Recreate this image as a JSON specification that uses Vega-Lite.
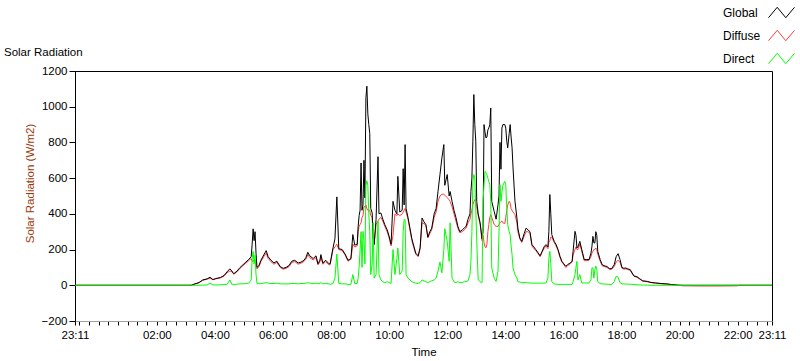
{
 "$schema": "https://vega.github.io/schema/vega-lite/v6.json",
 "width": 697,
 "height": 250,
 "autosize": {"type": "none"},
 "padding": {"left": 75, "top": 71, "right": 28, "bottom": 40},
 "background": "white",
 "config": {
  "font": "Liberation Sans",
  "view": {"stroke": "#000000", "strokeWidth": 1},
  "axis": {"labelFont": "Liberation Sans", "labelFontSize": 11.5, "labelColor": "black", "tickColor": "black", "domainColor": "black", "grid": false, "titleFont": "Liberation Sans", "titleFontSize": 11.5, "titleFontWeight": "normal", "titleColor": "black"}
 },
 "title": {"text": "Solar Radiation", "anchor": "start", "frame": "group", "dx": -71, "dy": 73, "offset": 14, "font": "Liberation Sans", "fontSize": 11.5, "fontWeight": "normal", "color": "black"},
 "data": {"values": [
  {"t":"2024-01-01T23:11","Global":0,"Diffuse":0,"Direct":0},
  {"t":"2024-01-02T03:11","Global":0,"Diffuse":0,"Direct":0},
  {"t":"2024-01-02T03:19","Global":8,"Diffuse":8,"Direct":0},
  {"t":"2024-01-02T03:27","Global":15,"Diffuse":14,"Direct":0},
  {"t":"2024-01-02T03:35","Global":30,"Diffuse":28,"Direct":1},
  {"t":"2024-01-02T03:44","Global":36,"Diffuse":34,"Direct":2},
  {"t":"2024-01-02T03:50","Global":45,"Diffuse":40,"Direct":12},
  {"t":"2024-01-02T03:56","Global":32,"Diffuse":31,"Direct":2},
  {"t":"2024-01-02T04:02","Global":38,"Diffuse":36,"Direct":2},
  {"t":"2024-01-02T04:11","Global":43,"Diffuse":41,"Direct":3},
  {"t":"2024-01-02T04:19","Global":55,"Diffuse":52,"Direct":4},
  {"t":"2024-01-02T04:25","Global":75,"Diffuse":70,"Direct":5},
  {"t":"2024-01-02T04:31","Global":92,"Diffuse":80,"Direct":30},
  {"t":"2024-01-02T04:35","Global":80,"Diffuse":76,"Direct":5},
  {"t":"2024-01-02T04:39","Global":65,"Diffuse":62,"Direct":5},
  {"t":"2024-01-02T04:46","Global":80,"Diffuse":76,"Direct":6},
  {"t":"2024-01-02T04:52","Global":100,"Diffuse":95,"Direct":8},
  {"t":"2024-01-02T04:58","Global":115,"Diffuse":110,"Direct":8},
  {"t":"2024-01-02T05:04","Global":130,"Diffuse":124,"Direct":10},
  {"t":"2024-01-02T05:10","Global":145,"Diffuse":138,"Direct":12},
  {"t":"2024-01-02T05:15","Global":160,"Diffuse":150,"Direct":30},
  {"t":"2024-01-02T05:17","Global":230,"Diffuse":135,"Direct":150},
  {"t":"2024-01-02T05:19","Global":316,"Diffuse":135,"Direct":190},
  {"t":"2024-01-02T05:21","Global":250,"Diffuse":140,"Direct":120},
  {"t":"2024-01-02T05:23","Global":300,"Diffuse":140,"Direct":170},
  {"t":"2024-01-02T05:25","Global":180,"Diffuse":120,"Direct":60},
  {"t":"2024-01-02T05:27","Global":100,"Diffuse":92,"Direct":10},
  {"t":"2024-01-02T05:31","Global":110,"Diffuse":104,"Direct":8},
  {"t":"2024-01-02T05:35","Global":140,"Diffuse":132,"Direct":10},
  {"t":"2024-01-02T05:41","Global":170,"Diffuse":160,"Direct":12},
  {"t":"2024-01-02T05:46","Global":194,"Diffuse":180,"Direct":15},
  {"t":"2024-01-02T05:50","Global":160,"Diffuse":150,"Direct":12},
  {"t":"2024-01-02T05:56","Global":140,"Diffuse":132,"Direct":10},
  {"t":"2024-01-02T06:02","Global":125,"Diffuse":118,"Direct":10},
  {"t":"2024-01-02T06:08","Global":135,"Diffuse":128,"Direct":12},
  {"t":"2024-01-02T06:15","Global":105,"Diffuse":100,"Direct":8},
  {"t":"2024-01-02T06:21","Global":95,"Diffuse":90,"Direct":8},
  {"t":"2024-01-02T06:27","Global":100,"Diffuse":95,"Direct":8},
  {"t":"2024-01-02T06:33","Global":110,"Diffuse":104,"Direct":8},
  {"t":"2024-01-02T06:39","Global":135,"Diffuse":128,"Direct":10},
  {"t":"2024-01-02T06:45","Global":140,"Diffuse":133,"Direct":10},
  {"t":"2024-01-02T06:52","Global":125,"Diffuse":118,"Direct":8},
  {"t":"2024-01-02T06:58","Global":130,"Diffuse":124,"Direct":10},
  {"t":"2024-01-02T07:04","Global":140,"Diffuse":133,"Direct":10},
  {"t":"2024-01-02T07:08","Global":155,"Diffuse":146,"Direct":12},
  {"t":"2024-01-02T07:12","Global":185,"Diffuse":172,"Direct":15},
  {"t":"2024-01-02T07:16","Global":165,"Diffuse":155,"Direct":12},
  {"t":"2024-01-02T07:23","Global":150,"Diffuse":142,"Direct":10},
  {"t":"2024-01-02T07:29","Global":165,"Diffuse":155,"Direct":12},
  {"t":"2024-01-02T07:33","Global":120,"Diffuse":114,"Direct":8},
  {"t":"2024-01-02T07:37","Global":140,"Diffuse":132,"Direct":10},
  {"t":"2024-01-02T07:39","Global":172,"Diffuse":160,"Direct":15},
  {"t":"2024-01-02T07:43","Global":125,"Diffuse":118,"Direct":8},
  {"t":"2024-01-02T07:49","Global":140,"Diffuse":132,"Direct":10},
  {"t":"2024-01-02T07:56","Global":120,"Diffuse":114,"Direct":8},
  {"t":"2024-01-02T07:58","Global":120,"Diffuse":115,"Direct":5},
  {"t":"2024-01-02T08:04","Global":209,"Diffuse":200,"Direct":10},
  {"t":"2024-01-02T08:08","Global":260,"Diffuse":215,"Direct":40},
  {"t":"2024-01-02T08:12","Global":495,"Diffuse":230,"Direct":175},
  {"t":"2024-01-02T08:16","Global":205,"Diffuse":200,"Direct":10},
  {"t":"2024-01-02T08:23","Global":200,"Diffuse":195,"Direct":8},
  {"t":"2024-01-02T08:29","Global":175,"Diffuse":170,"Direct":8},
  {"t":"2024-01-02T08:35","Global":140,"Diffuse":135,"Direct":5},
  {"t":"2024-01-02T08:41","Global":150,"Diffuse":145,"Direct":5},
  {"t":"2024-01-02T08:45","Global":284,"Diffuse":230,"Direct":60},
  {"t":"2024-01-02T08:49","Global":225,"Diffuse":215,"Direct":10},
  {"t":"2024-01-02T08:54","Global":230,"Diffuse":220,"Direct":10},
  {"t":"2024-01-02T08:56","Global":330,"Diffuse":300,"Direct":40},
  {"t":"2024-01-02T08:58","Global":390,"Diffuse":330,"Direct":100},
  {"t":"2024-01-02T09:00","Global":420,"Diffuse":340,"Direct":200},
  {"t":"2024-01-02T09:02","Global":685,"Diffuse":350,"Direct":300},
  {"t":"2024-01-02T09:04","Global":420,"Diffuse":380,"Direct":100},
  {"t":"2024-01-02T09:06","Global":450,"Diffuse":390,"Direct":302},
  {"t":"2024-01-02T09:08","Global":700,"Diffuse":440,"Direct":250},
  {"t":"2024-01-02T09:10","Global":490,"Diffuse":440,"Direct":120},
  {"t":"2024-01-02T09:12","Global":1050,"Diffuse":450,"Direct":560},
  {"t":"2024-01-02T09:14","Global":1115,"Diffuse":430,"Direct":585},
  {"t":"2024-01-02T09:16","Global":960,"Diffuse":420,"Direct":560},
  {"t":"2024-01-02T09:18","Global":900,"Diffuse":420,"Direct":400},
  {"t":"2024-01-02T09:20","Global":850,"Diffuse":420,"Direct":300},
  {"t":"2024-01-02T09:22","Global":430,"Diffuse":390,"Direct":60},
  {"t":"2024-01-02T09:25","Global":405,"Diffuse":380,"Direct":120},
  {"t":"2024-01-02T09:27","Global":260,"Diffuse":250,"Direct":350},
  {"t":"2024-01-02T09:29","Global":230,"Diffuse":225,"Direct":40},
  {"t":"2024-01-02T09:33","Global":370,"Diffuse":340,"Direct":60},
  {"t":"2024-01-02T09:37","Global":720,"Diffuse":360,"Direct":358},
  {"t":"2024-01-02T09:39","Global":400,"Diffuse":370,"Direct":60},
  {"t":"2024-01-02T09:43","Global":405,"Diffuse":380,"Direct":30},
  {"t":"2024-01-02T09:47","Global":370,"Diffuse":360,"Direct":20},
  {"t":"2024-01-02T09:51","Global":340,"Diffuse":330,"Direct":15},
  {"t":"2024-01-02T09:56","Global":310,"Diffuse":300,"Direct":20},
  {"t":"2024-01-02T10:00","Global":275,"Diffuse":265,"Direct":15},
  {"t":"2024-01-02T10:04","Global":230,"Diffuse":220,"Direct":10},
  {"t":"2024-01-02T10:08","Global":470,"Diffuse":280,"Direct":200},
  {"t":"2024-01-02T10:12","Global":420,"Diffuse":400,"Direct":60},
  {"t":"2024-01-02T10:16","Global":400,"Diffuse":390,"Direct":150},
  {"t":"2024-01-02T10:18","Global":610,"Diffuse":400,"Direct":209},
  {"t":"2024-01-02T10:22","Global":410,"Diffuse":390,"Direct":60},
  {"t":"2024-01-02T10:27","Global":420,"Diffuse":400,"Direct":80},
  {"t":"2024-01-02T10:29","Global":653,"Diffuse":410,"Direct":300},
  {"t":"2024-01-02T10:31","Global":450,"Diffuse":420,"Direct":368},
  {"t":"2024-01-02T10:33","Global":788,"Diffuse":430,"Direct":368},
  {"t":"2024-01-02T10:35","Global":430,"Diffuse":410,"Direct":60},
  {"t":"2024-01-02T10:39","Global":380,"Diffuse":370,"Direct":40},
  {"t":"2024-01-02T10:43","Global":320,"Diffuse":310,"Direct":30},
  {"t":"2024-01-02T10:47","Global":260,"Diffuse":250,"Direct":20},
  {"t":"2024-01-02T10:51","Global":220,"Diffuse":210,"Direct":15},
  {"t":"2024-01-02T10:55","Global":180,"Diffuse":175,"Direct":12},
  {"t":"2024-01-02T11:00","Global":165,"Diffuse":160,"Direct":10},
  {"t":"2024-01-02T11:04","Global":210,"Diffuse":205,"Direct":15},
  {"t":"2024-01-02T11:08","Global":377,"Diffuse":350,"Direct":30},
  {"t":"2024-01-02T11:12","Global":355,"Diffuse":345,"Direct":25},
  {"t":"2024-01-02T11:16","Global":340,"Diffuse":335,"Direct":20},
  {"t":"2024-01-02T11:20","Global":270,"Diffuse":265,"Direct":15},
  {"t":"2024-01-02T11:24","Global":300,"Diffuse":290,"Direct":20},
  {"t":"2024-01-02T11:28","Global":320,"Diffuse":310,"Direct":25},
  {"t":"2024-01-02T11:33","Global":400,"Diffuse":380,"Direct":30},
  {"t":"2024-01-02T11:37","Global":430,"Diffuse":410,"Direct":40},
  {"t":"2024-01-02T11:41","Global":526,"Diffuse":470,"Direct":80},
  {"t":"2024-01-02T11:45","Global":620,"Diffuse":500,"Direct":130},
  {"t":"2024-01-02T11:49","Global":713,"Diffuse":510,"Direct":70},
  {"t":"2024-01-02T11:53","Global":788,"Diffuse":510,"Direct":200},
  {"t":"2024-01-02T11:55","Global":560,"Diffuse":505,"Direct":317},
  {"t":"2024-01-02T12:00","Global":620,"Diffuse":490,"Direct":246},
  {"t":"2024-01-02T12:04","Global":500,"Diffuse":480,"Direct":134},
  {"t":"2024-01-02T12:06","Global":525,"Diffuse":470,"Direct":350},
  {"t":"2024-01-02T12:10","Global":470,"Diffuse":440,"Direct":40},
  {"t":"2024-01-02T12:14","Global":420,"Diffuse":400,"Direct":20},
  {"t":"2024-01-02T12:18","Global":380,"Diffuse":360,"Direct":15},
  {"t":"2024-01-02T12:22","Global":330,"Diffuse":320,"Direct":20},
  {"t":"2024-01-02T12:26","Global":300,"Diffuse":295,"Direct":15},
  {"t":"2024-01-02T12:31","Global":310,"Diffuse":300,"Direct":15},
  {"t":"2024-01-02T12:35","Global":320,"Diffuse":310,"Direct":20},
  {"t":"2024-01-02T12:39","Global":330,"Diffuse":320,"Direct":20},
  {"t":"2024-01-02T12:43","Global":370,"Diffuse":350,"Direct":25},
  {"t":"2024-01-02T12:47","Global":400,"Diffuse":370,"Direct":60},
  {"t":"2024-01-02T12:49","Global":526,"Diffuse":400,"Direct":134},
  {"t":"2024-01-02T12:51","Global":600,"Diffuse":420,"Direct":300},
  {"t":"2024-01-02T12:53","Global":807,"Diffuse":450,"Direct":580},
  {"t":"2024-01-02T12:55","Global":1068,"Diffuse":470,"Direct":620},
  {"t":"2024-01-02T12:57","Global":900,"Diffuse":480,"Direct":600},
  {"t":"2024-01-02T12:59","Global":807,"Diffuse":460,"Direct":433},
  {"t":"2024-01-02T13:01","Global":470,"Diffuse":440,"Direct":246},
  {"t":"2024-01-02T13:04","Global":400,"Diffuse":390,"Direct":30},
  {"t":"2024-01-02T13:08","Global":350,"Diffuse":340,"Direct":20},
  {"t":"2024-01-02T13:12","Global":260,"Diffuse":250,"Direct":15},
  {"t":"2024-01-02T13:14","Global":300,"Diffuse":280,"Direct":470},
  {"t":"2024-01-02T13:16","Global":900,"Diffuse":240,"Direct":560},
  {"t":"2024-01-02T13:18","Global":860,"Diffuse":215,"Direct":638},
  {"t":"2024-01-02T13:20","Global":825,"Diffuse":210,"Direct":630},
  {"t":"2024-01-02T13:22","Global":830,"Diffuse":230,"Direct":620},
  {"t":"2024-01-02T13:24","Global":870,"Diffuse":300,"Direct":600},
  {"t":"2024-01-02T13:26","Global":881,"Diffuse":340,"Direct":580},
  {"t":"2024-01-02T13:28","Global":900,"Diffuse":380,"Direct":564},
  {"t":"2024-01-02T13:30","Global":993,"Diffuse":396,"Direct":470},
  {"t":"2024-01-02T13:32","Global":470,"Diffuse":380,"Direct":97},
  {"t":"2024-01-02T13:37","Global":414,"Diffuse":340,"Direct":40},
  {"t":"2024-01-02T13:41","Global":370,"Diffuse":330,"Direct":22},
  {"t":"2024-01-02T13:45","Global":452,"Diffuse":330,"Direct":80},
  {"t":"2024-01-02T13:47","Global":500,"Diffuse":340,"Direct":300},
  {"t":"2024-01-02T13:49","Global":800,"Diffuse":350,"Direct":564},
  {"t":"2024-01-02T13:51","Global":650,"Diffuse":355,"Direct":470},
  {"t":"2024-01-02T13:53","Global":880,"Diffuse":360,"Direct":520},
  {"t":"2024-01-02T13:55","Global":900,"Diffuse":350,"Direct":560},
  {"t":"2024-01-02T13:59","Global":900,"Diffuse":345,"Direct":582},
  {"t":"2024-01-02T14:01","Global":880,"Diffuse":380,"Direct":560},
  {"t":"2024-01-02T14:03","Global":806,"Diffuse":420,"Direct":433},
  {"t":"2024-01-02T14:05","Global":770,"Diffuse":450,"Direct":340},
  {"t":"2024-01-02T14:08","Global":850,"Diffuse":470,"Direct":300},
  {"t":"2024-01-02T14:10","Global":900,"Diffuse":460,"Direct":284},
  {"t":"2024-01-02T14:12","Global":830,"Diffuse":430,"Direct":220},
  {"t":"2024-01-02T14:14","Global":770,"Diffuse":420,"Direct":172},
  {"t":"2024-01-02T14:16","Global":657,"Diffuse":410,"Direct":97},
  {"t":"2024-01-02T14:20","Global":470,"Diffuse":396,"Direct":60},
  {"t":"2024-01-02T14:24","Global":377,"Diffuse":350,"Direct":41},
  {"t":"2024-01-02T14:26","Global":320,"Diffuse":300,"Direct":20},
  {"t":"2024-01-02T14:30","Global":265,"Diffuse":260,"Direct":18},
  {"t":"2024-01-02T14:34","Global":246,"Diffuse":240,"Direct":15},
  {"t":"2024-01-02T14:39","Global":290,"Diffuse":275,"Direct":15},
  {"t":"2024-01-02T14:43","Global":320,"Diffuse":300,"Direct":15},
  {"t":"2024-01-02T14:47","Global":310,"Diffuse":300,"Direct":13},
  {"t":"2024-01-02T14:51","Global":300,"Diffuse":290,"Direct":13},
  {"t":"2024-01-02T14:55","Global":228,"Diffuse":220,"Direct":12},
  {"t":"2024-01-02T14:59","Global":215,"Diffuse":205,"Direct":12},
  {"t":"2024-01-02T15:03","Global":200,"Diffuse":195,"Direct":12},
  {"t":"2024-01-02T15:07","Global":185,"Diffuse":180,"Direct":12},
  {"t":"2024-01-02T15:12","Global":165,"Diffuse":160,"Direct":12},
  {"t":"2024-01-02T15:16","Global":190,"Diffuse":185,"Direct":12},
  {"t":"2024-01-02T15:20","Global":215,"Diffuse":205,"Direct":12},
  {"t":"2024-01-02T15:24","Global":228,"Diffuse":220,"Direct":13},
  {"t":"2024-01-02T15:28","Global":215,"Diffuse":205,"Direct":40},
  {"t":"2024-01-02T15:30","Global":300,"Diffuse":240,"Direct":150},
  {"t":"2024-01-02T15:32","Global":508,"Diffuse":250,"Direct":190},
  {"t":"2024-01-02T15:34","Global":400,"Diffuse":270,"Direct":120},
  {"t":"2024-01-02T15:36","Global":284,"Diffuse":270,"Direct":20},
  {"t":"2024-01-02T15:41","Global":246,"Diffuse":240,"Direct":8},
  {"t":"2024-01-02T15:45","Global":228,"Diffuse":220,"Direct":6},
  {"t":"2024-01-02T15:49","Global":200,"Diffuse":195,"Direct":5},
  {"t":"2024-01-02T15:53","Global":162,"Diffuse":155,"Direct":5},
  {"t":"2024-01-02T15:57","Global":134,"Diffuse":130,"Direct":5},
  {"t":"2024-01-02T16:01","Global":120,"Diffuse":115,"Direct":5},
  {"t":"2024-01-02T16:05","Global":106,"Diffuse":100,"Direct":5},
  {"t":"2024-01-02T16:09","Global":116,"Diffuse":110,"Direct":5},
  {"t":"2024-01-02T16:14","Global":125,"Diffuse":120,"Direct":5},
  {"t":"2024-01-02T16:18","Global":134,"Diffuse":130,"Direct":5},
  {"t":"2024-01-02T16:20","Global":190,"Diffuse":170,"Direct":20},
  {"t":"2024-01-02T16:24","Global":302,"Diffuse":200,"Direct":60},
  {"t":"2024-01-02T16:26","Global":280,"Diffuse":215,"Direct":100},
  {"t":"2024-01-02T16:28","Global":209,"Diffuse":200,"Direct":134},
  {"t":"2024-01-02T16:30","Global":215,"Diffuse":200,"Direct":30},
  {"t":"2024-01-02T16:34","Global":246,"Diffuse":230,"Direct":60},
  {"t":"2024-01-02T16:38","Global":200,"Diffuse":190,"Direct":13},
  {"t":"2024-01-02T16:43","Global":144,"Diffuse":138,"Direct":13},
  {"t":"2024-01-02T16:47","Global":144,"Diffuse":138,"Direct":13},
  {"t":"2024-01-02T16:53","Global":144,"Diffuse":140,"Direct":13},
  {"t":"2024-01-02T16:57","Global":180,"Diffuse":160,"Direct":30},
  {"t":"2024-01-02T16:59","Global":218,"Diffuse":180,"Direct":97},
  {"t":"2024-01-02T17:01","Global":274,"Diffuse":190,"Direct":97},
  {"t":"2024-01-02T17:03","Global":237,"Diffuse":200,"Direct":40},
  {"t":"2024-01-02T17:05","Global":237,"Diffuse":200,"Direct":88},
  {"t":"2024-01-02T17:07","Global":300,"Diffuse":209,"Direct":107},
  {"t":"2024-01-02T17:09","Global":280,"Diffuse":200,"Direct":90},
  {"t":"2024-01-02T17:11","Global":190,"Diffuse":175,"Direct":20},
  {"t":"2024-01-02T17:16","Global":144,"Diffuse":135,"Direct":10},
  {"t":"2024-01-02T17:20","Global":116,"Diffuse":110,"Direct":8},
  {"t":"2024-01-02T17:24","Global":110,"Diffuse":105,"Direct":7},
  {"t":"2024-01-02T17:30","Global":105,"Diffuse":100,"Direct":6},
  {"t":"2024-01-02T17:36","Global":92,"Diffuse":88,"Direct":5},
  {"t":"2024-01-02T17:40","Global":95,"Diffuse":90,"Direct":5},
  {"t":"2024-01-02T17:45","Global":115,"Diffuse":105,"Direct":20},
  {"t":"2024-01-02T17:49","Global":160,"Diffuse":130,"Direct":50},
  {"t":"2024-01-02T17:53","Global":177,"Diffuse":140,"Direct":45},
  {"t":"2024-01-02T17:57","Global":144,"Diffuse":130,"Direct":15},
  {"t":"2024-01-02T18:01","Global":100,"Diffuse":95,"Direct":8},
  {"t":"2024-01-02T18:05","Global":95,"Diffuse":90,"Direct":7},
  {"t":"2024-01-02T18:09","Global":97,"Diffuse":92,"Direct":7},
  {"t":"2024-01-02T18:13","Global":92,"Diffuse":88,"Direct":6},
  {"t":"2024-01-02T18:18","Global":88,"Diffuse":84,"Direct":6},
  {"t":"2024-01-02T18:22","Global":69,"Diffuse":66,"Direct":5},
  {"t":"2024-01-02T18:26","Global":52,"Diffuse":50,"Direct":4},
  {"t":"2024-01-02T18:32","Global":48,"Diffuse":45,"Direct":3},
  {"t":"2024-01-02T18:38","Global":36,"Diffuse":34,"Direct":2},
  {"t":"2024-01-02T18:44","Global":25,"Diffuse":23,"Direct":1},
  {"t":"2024-01-02T18:53","Global":22,"Diffuse":20,"Direct":1},
  {"t":"2024-01-02T19:01","Global":16,"Diffuse":15,"Direct":0},
  {"t":"2024-01-02T19:11","Global":13,"Diffuse":12,"Direct":0},
  {"t":"2024-01-02T19:22","Global":10,"Diffuse":8,"Direct":0},
  {"t":"2024-01-02T19:34","Global":8,"Diffuse":6,"Direct":0},
  {"t":"2024-01-02T19:44","Global":4,"Diffuse":3,"Direct":0},
  {"t":"2024-01-02T19:57","Global":1,"Diffuse":0,"Direct":0},
  {"t":"2024-01-02T20:07","Global":0,"Diffuse":-3,"Direct":0},
  {"t":"2024-01-02T20:42","Global":0,"Diffuse":-4,"Direct":0},
  {"t":"2024-01-02T21:23","Global":0,"Diffuse":-4,"Direct":0},
  {"t":"2024-01-02T21:59","Global":0,"Diffuse":-3,"Direct":0},
  {"t":"2024-01-02T22:03","Global":0,"Diffuse":0,"Direct":0},
  {"t":"2024-01-02T23:11","Global":0,"Diffuse":0,"Direct":0}
 ]},
 "transform": [{"fold": ["Diffuse", "Global", "Direct"], "as": ["Series", "Value"]}],
 "mark": {"type": "line", "strokeWidth": 1},
 "encoding": {
  "x": {"field": "t", "type": "temporal",
   "scale": {"domain": [{"year": 2024, "month": 1, "date": 1, "hours": 23, "minutes": 11}, {"year": 2024, "month": 1, "date": 2, "hours": 23, "minutes": 11}], "nice": false},
   "axis": {"labelExpr": "(minutes(datum.value) == 11 || (minutes(datum.value) == 0 && hours(datum.value) % 2 == 0 && hours(datum.value) > 0)) ? timeFormat(datum.value, '%H:%M') : ''",
    "labelFlush": false, "labelOverlap": false, "tickSize": 4, "labelPadding": 4, "domain": true, "domainColor": "#a0a0a0", "title": "Time", "titlePadding": 6,
    "values": [
     {"year": 2024, "month": 1, "date": 1, "hours": 23, "minutes": 11},
     {"year": 2024, "month": 1, "date": 1, "hours": 23, "minutes": 20},
     {"year": 2024, "month": 1, "date": 1, "hours": 23, "minutes": 40},
     {"year": 2024, "month": 1, "date": 2, "hours": 0, "minutes": 0},
     {"year": 2024, "month": 1, "date": 2, "hours": 0, "minutes": 20},
     {"year": 2024, "month": 1, "date": 2, "hours": 0, "minutes": 40},
     {"year": 2024, "month": 1, "date": 2, "hours": 1, "minutes": 0},
     {"year": 2024, "month": 1, "date": 2, "hours": 1, "minutes": 20},
     {"year": 2024, "month": 1, "date": 2, "hours": 1, "minutes": 40},
     {"year": 2024, "month": 1, "date": 2, "hours": 2, "minutes": 0},
     {"year": 2024, "month": 1, "date": 2, "hours": 2, "minutes": 20},
     {"year": 2024, "month": 1, "date": 2, "hours": 2, "minutes": 40},
     {"year": 2024, "month": 1, "date": 2, "hours": 3, "minutes": 0},
     {"year": 2024, "month": 1, "date": 2, "hours": 3, "minutes": 20},
     {"year": 2024, "month": 1, "date": 2, "hours": 3, "minutes": 40},
     {"year": 2024, "month": 1, "date": 2, "hours": 4, "minutes": 0},
     {"year": 2024, "month": 1, "date": 2, "hours": 4, "minutes": 20},
     {"year": 2024, "month": 1, "date": 2, "hours": 4, "minutes": 40},
     {"year": 2024, "month": 1, "date": 2, "hours": 5, "minutes": 0},
     {"year": 2024, "month": 1, "date": 2, "hours": 5, "minutes": 20},
     {"year": 2024, "month": 1, "date": 2, "hours": 5, "minutes": 40},
     {"year": 2024, "month": 1, "date": 2, "hours": 6, "minutes": 0},
     {"year": 2024, "month": 1, "date": 2, "hours": 6, "minutes": 20},
     {"year": 2024, "month": 1, "date": 2, "hours": 6, "minutes": 40},
     {"year": 2024, "month": 1, "date": 2, "hours": 7, "minutes": 0},
     {"year": 2024, "month": 1, "date": 2, "hours": 7, "minutes": 20},
     {"year": 2024, "month": 1, "date": 2, "hours": 7, "minutes": 40},
     {"year": 2024, "month": 1, "date": 2, "hours": 8, "minutes": 0},
     {"year": 2024, "month": 1, "date": 2, "hours": 8, "minutes": 20},
     {"year": 2024, "month": 1, "date": 2, "hours": 8, "minutes": 40},
     {"year": 2024, "month": 1, "date": 2, "hours": 9, "minutes": 0},
     {"year": 2024, "month": 1, "date": 2, "hours": 9, "minutes": 20},
     {"year": 2024, "month": 1, "date": 2, "hours": 9, "minutes": 40},
     {"year": 2024, "month": 1, "date": 2, "hours": 10, "minutes": 0},
     {"year": 2024, "month": 1, "date": 2, "hours": 10, "minutes": 20},
     {"year": 2024, "month": 1, "date": 2, "hours": 10, "minutes": 40},
     {"year": 2024, "month": 1, "date": 2, "hours": 11, "minutes": 0},
     {"year": 2024, "month": 1, "date": 2, "hours": 11, "minutes": 20},
     {"year": 2024, "month": 1, "date": 2, "hours": 11, "minutes": 40},
     {"year": 2024, "month": 1, "date": 2, "hours": 12, "minutes": 0},
     {"year": 2024, "month": 1, "date": 2, "hours": 12, "minutes": 20},
     {"year": 2024, "month": 1, "date": 2, "hours": 12, "minutes": 40},
     {"year": 2024, "month": 1, "date": 2, "hours": 13, "minutes": 0},
     {"year": 2024, "month": 1, "date": 2, "hours": 13, "minutes": 20},
     {"year": 2024, "month": 1, "date": 2, "hours": 13, "minutes": 40},
     {"year": 2024, "month": 1, "date": 2, "hours": 14, "minutes": 0},
     {"year": 2024, "month": 1, "date": 2, "hours": 14, "minutes": 20},
     {"year": 2024, "month": 1, "date": 2, "hours": 14, "minutes": 40},
     {"year": 2024, "month": 1, "date": 2, "hours": 15, "minutes": 0},
     {"year": 2024, "month": 1, "date": 2, "hours": 15, "minutes": 20},
     {"year": 2024, "month": 1, "date": 2, "hours": 15, "minutes": 40},
     {"year": 2024, "month": 1, "date": 2, "hours": 16, "minutes": 0},
     {"year": 2024, "month": 1, "date": 2, "hours": 16, "minutes": 20},
     {"year": 2024, "month": 1, "date": 2, "hours": 16, "minutes": 40},
     {"year": 2024, "month": 1, "date": 2, "hours": 17, "minutes": 0},
     {"year": 2024, "month": 1, "date": 2, "hours": 17, "minutes": 20},
     {"year": 2024, "month": 1, "date": 2, "hours": 17, "minutes": 40},
     {"year": 2024, "month": 1, "date": 2, "hours": 18, "minutes": 0},
     {"year": 2024, "month": 1, "date": 2, "hours": 18, "minutes": 20},
     {"year": 2024, "month": 1, "date": 2, "hours": 18, "minutes": 40},
     {"year": 2024, "month": 1, "date": 2, "hours": 19, "minutes": 0},
     {"year": 2024, "month": 1, "date": 2, "hours": 19, "minutes": 20},
     {"year": 2024, "month": 1, "date": 2, "hours": 19, "minutes": 40},
     {"year": 2024, "month": 1, "date": 2, "hours": 20, "minutes": 0},
     {"year": 2024, "month": 1, "date": 2, "hours": 20, "minutes": 20},
     {"year": 2024, "month": 1, "date": 2, "hours": 20, "minutes": 40},
     {"year": 2024, "month": 1, "date": 2, "hours": 21, "minutes": 0},
     {"year": 2024, "month": 1, "date": 2, "hours": 21, "minutes": 20},
     {"year": 2024, "month": 1, "date": 2, "hours": 21, "minutes": 40},
     {"year": 2024, "month": 1, "date": 2, "hours": 22, "minutes": 0},
     {"year": 2024, "month": 1, "date": 2, "hours": 22, "minutes": 20},
     {"year": 2024, "month": 1, "date": 2, "hours": 22, "minutes": 40},
     {"year": 2024, "month": 1, "date": 2, "hours": 23, "minutes": 0},
     {"year": 2024, "month": 1, "date": 2, "hours": 23, "minutes": 11}
    ]}},
  "y": {"field": "Value", "type": "quantitative",
   "scale": {"domain": [-200, 1200], "nice": false, "zero": false},
   "axis": {"values": [-200, 0, 200, 400, 600, 800, 1000, 1200], "format": "d", "tickSize": 6, "labelPadding": 2, "title": "Solar Radiation (W/m2)", "titleColor": "#9a3a0a", "titleY": 112, "titlePadding": 6}},
  "color": {"field": "Series", "type": "nominal",
   "scale": {"domain": ["Global", "Diffuse", "Direct"], "range": ["#000000", "#ff3c3c", "#00ff00"]},
   "legend": {"orient": "none", "legendX": 645, "legendY": -72, "title": null, "direction": "vertical", "padding": 0,
    "symbolType": "M-1,0.4L-0.33,-0.4L0.33,0.4L1,-0.4", "symbolSize": 676, "symbolStrokeWidth": 1,
    "labelFont": "Liberation Sans", "labelFontSize": 12, "labelColor": "black", "rowPadding": 2,
    "symbolOffset": 48, "labelOffset": -72}}
 }
}
